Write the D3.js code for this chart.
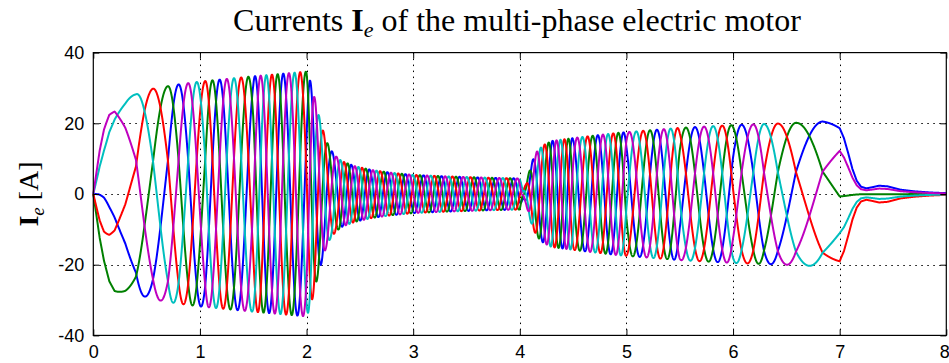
<!DOCTYPE html>
<html>
<head>
<meta charset="utf-8">
<script src="https://cdn.jsdelivr.net/npm/d3@7"></script>
<style>
  body { margin: 0; background: #fff; }
  svg { display: block; }
  .tick text { font-family: "Liberation Sans", Arial, sans-serif; font-size: 18px; fill: #000; }
</style>
</head>
<body>
<script>

// ----- Data -----

// five phases, in plotting order (magenta drawn last)
const phaseNames = ["blue", "green", "red", "cyan", "magenta"];
const phaseColors = ["#0000ff", "#008000", "#ff0000", "#00bfbf", "#bf00bf"];
// electrical angle (deg) at which each phase peaks
const phaseOffsetDeg = [288, 216, 144, 72, 0];

// amplitude envelope of the phase currents [A]
const envTime = [0, 0.03, 0.06, 0.1, 0.15, 0.2, 0.3, 0.4, 0.56, 0.8, 1.0, 1.5, 1.95, 2.0,
                 2.03, 2.07, 2.1, 2.14, 2.18, 2.22, 2.27, 2.33, 2.45, 2.61, 2.8, 3.0, 3.3, 3.71, 4.0,
                 4.03, 4.06, 4.09, 4.12, 4.16, 4.22, 4.3, 4.55, 4.92, 5.5, 6.0, 6.5, 6.84, 7.0,
                 7.04, 7.08, 7.12, 7.16, 7.2, 7.25, 7.3, 7.37, 7.45, 7.57, 7.7, 7.85, 8.0];
const envAmp  = [0, 6.5, 13, 19.5, 25, 27.5, 28, 28.2, 29.8, 31, 31.8, 33.3, 34.5, 34.6,
                 32.5, 28, 24, 19.5, 15.5, 12.8, 10.8, 9.3, 7.9, 6.8, 6, 5.4, 5, 4.6, 4.4,
                 0.8, 3, 6.5, 9.5, 12, 13.8, 15, 16, 17.3, 18.7, 19.5, 20, 20.5, 19.8,
                 16.8, 12.3, 7.5, 4.0, 2.2, 1.7, 2.0, 2.5, 2.3, 1.3, 0.8, 0.45, 0.25];

// electrical angle of the current vector (deg), from the peak positions
const angleTime = [0, 0.05, 0.1, 0.2, 0.3, 0.4, 0.48, 0.56, 0.70, 0.80, 0.89, 0.97, 1.05, 1.5, 2.0, 2.3, 3.0, 4.0,
                   4.5, 5.0, 5.5, 6.0, 6.08, 6.19, 6.29, 6.42, 6.59, 6.84, 7.0, 8.0];
const angleDeg  = [18, 18.5, 21, 32, 48, 70, 108, 144, 216, 288, 360, 432, 504, 985, 1665, 2194, 3681, 5810,
                   6782, 7529, 8087, 8510, 8568, 8640, 8712, 8784, 8856, 8928, 8948, 8948];

const xTicks = [0, 1, 2, 3, 4, 5, 6, 7, 8];
const yTicks = [-40, -20, 0, 20, 40];


// ----- Layout -----
const WIDTH = 949, HEIGHT = 363;
const LEFT = 93.3, RIGHT = 946.3, TOP = 52.6, BOTTOM = 335.4;

function main() {
    const svg = d3.select("body").append("svg")
        .attr("width", WIDTH)
        .attr("height", HEIGHT);

    const x = d3.scaleLinear().domain([0, 8]).range([LEFT, RIGHT]);
    const y = d3.scaleLinear().domain([-40, 40]).range([BOTTOM, TOP]);

    const envelope = d3.scaleLinear().domain(envTime).range(envAmp);
    const angle = d3.scaleLinear().domain(angleTime).range(angleDeg);

    // ----- Grid -----
    const grid = svg.append("g")
        .attr("stroke", "#000")
        .attr("stroke-width", 1)
        .attr("stroke-dasharray", "1.5,4.5");
    grid.selectAll("line.v")
        .data(xTicks.slice(1, -1))
        .enter().append("line")
            .attr("class", "v")
            .attr("x1", d => Math.round(x(d)) + 0.5).attr("x2", d => Math.round(x(d)) + 0.5)
            .attr("y1", TOP).attr("y2", BOTTOM);
    grid.selectAll("line.h")
        .data(yTicks.slice(1, -1))
        .enter().append("line")
            .attr("class", "h")
            .attr("y1", d => Math.round(y(d)) + 0.5).attr("y2", d => Math.round(y(d)) + 0.5)
            .attr("x1", LEFT).attr("x2", RIGHT);

    // ----- Currents -----
    const times = d3.range(0, 8.0005, 0.001);
    const line = d3.line()
        .x(d => x(d[0]))
        .y(d => y(d[1]));

    phaseNames.forEach((name, k) => {
        const pts = times.map(t => {
            const a = (angle(t) - phaseOffsetDeg[k]) * Math.PI / 180;
            return [t, envelope(t) * Math.cos(a)];
        });
        svg.append("path")
            .datum(pts)
            .attr("class", "phase " + name)
            .attr("fill", "none")
            .attr("stroke", phaseColors[k])
            .attr("stroke-width", 2)
            .attr("stroke-linejoin", "round")
            .attr("d", line);
    });

    // ----- Axes (ticks inside, box) -----
    const TICK = 6;
    const bottomAxis = svg.append("g")
        .attr("transform", `translate(0,${BOTTOM})`)
        .call(d3.axisBottom(x).tickValues(xTicks).tickSizeInner(-TICK).tickSizeOuter(0).tickPadding(10).tickFormat(d3.format("d")));
    bottomAxis.selectAll(".tick text")
        .filter(d => d === 8)
        .attr("text-anchor", "end")
        .attr("dx", 3);
    svg.append("g")
        .attr("transform", `translate(0,${TOP})`)
        .call(d3.axisTop(x).tickValues(xTicks).tickSizeInner(-TICK).tickSizeOuter(0).tickFormat(""));
    svg.append("g")
        .attr("transform", `translate(${LEFT},0)`)
        .call(d3.axisLeft(y).tickValues(yTicks).tickSizeInner(-TICK).tickSizeOuter(0).tickPadding(9).tickFormat(d => d < 0 ? "-" + Math.abs(d) : d));
    svg.append("g")
        .attr("transform", `translate(${RIGHT},0)`)
        .call(d3.axisRight(y).tickValues(yTicks).tickSizeInner(-TICK).tickSizeOuter(0).tickFormat(""));
    svg.selectAll(".domain").remove();
    svg.selectAll(".tick line").attr("stroke", "#000");

    svg.append("rect")
        .attr("x", LEFT).attr("y", TOP)
        .attr("width", RIGHT - LEFT).attr("height", BOTTOM - TOP)
        .attr("fill", "none")
        .attr("stroke", "#000")
        .attr("stroke-width", 1.2);

    // ----- Title -----
    const title = svg.append("text")
        .attr("x", 517)
        .attr("y", 31)
        .attr("text-anchor", "middle")
        .style("font-family", "'Liberation Serif', 'Times New Roman', serif")
        .style("font-size", "32px");
    title.append("tspan").text("Currents ");
    title.append("tspan").style("font-weight", "bold").text("I");
    title.append("tspan").style("font-style", "italic").style("font-size", "22px").attr("dy", 6).text("e");
    title.append("tspan").attr("dy", -6).text(" of the multi-phase electric motor");

    // ----- Y label -----
    const ylab = svg.append("text")
        .attr("transform", `translate(38,${(TOP + BOTTOM) / 2}) rotate(-90)`)
        .attr("text-anchor", "middle")
        .style("font-family", "'Liberation Serif', 'Times New Roman', serif")
        .style("font-size", "28px");
    ylab.append("tspan").style("font-weight", "bold").text("I");
    ylab.append("tspan").style("font-style", "italic").style("font-size", "19px").attr("dy", 6).text("e");
    ylab.append("tspan").attr("dy", -6).text(" [A]");
}

main();
</script>
</body>
</html>
